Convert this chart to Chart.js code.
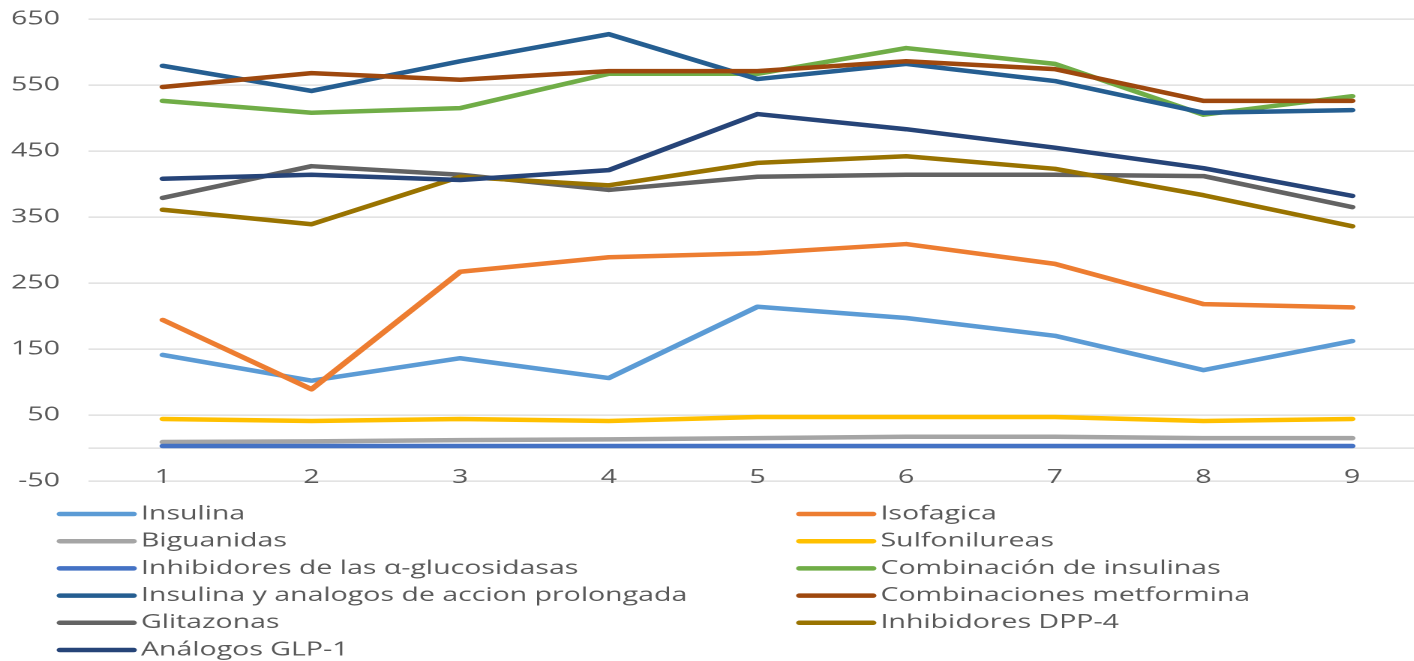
<!DOCTYPE html>
<html>
<head>
<meta charset="utf-8">
<script src="https://cdn.jsdelivr.net/npm/chart.js@4.4.1/dist/chart.umd.min.js"></script>
<style>
  html, body { margin: 0; padding: 0; background: #fff; overflow: hidden; }
  /* the reference is an Excel chart stretched sideways, so the canvas is stretched the same way */
  #wrap { width: 960px; height: 661px; transform: scaleX(1.5); transform-origin: 0 0; }
</style>
</head>
<body>
<div id="wrap"><canvas id="chart"></canvas></div>
<script>
const categories = ["1", "2", "3", "4", "5", "6", "7", "8", "9"];
const yTickValues = [-50, 50, 150, 250, 350, 450, 550, 650];

const insulina = [141, 102, 136, 106, 214, 197, 170, 118, 162];
const isofagica = [194, 89, 267, 289, 295, 309, 279, 218, 213];
const biguanidas = [9, 10, 12, 13, 15, 17, 17, 15, 15];
const sulfonilureas = [44, 41, 44, 41, 47, 47, 47, 41, 44];
const alfaGlucosidasas = [3, 3, 3, 3, 3, 3, 3, 3, 3];
const combInsulinas = [526, 508, 515, 567, 567, 606, 582, 505, 533];
const insulinaProlongada = [579, 541, 586, 627, 559, 582, 556, 508, 512];
const combMetformina = [547, 568, 558, 571, 571, 586, 574, 526, 526];
const glitazonas = [379, 427, 414, 391, 411, 414, 414, 412, 365];
const dpp4 = [361, 339, 411, 398, 432, 442, 423, 383, 336];
const glp1 = [408, 414, 406, 421, 506, 483, 455, 424, 382];

const seriesNames = [
  "Insulina", "Isofagica", "Biguanidas", "Sulfonilureas",
  "Inhibidores de las α-glucosidasas", "Combinación de insulinas",
  "Insulina y analogos de accion prolongada", "Combinaciones metformina",
  "Glitazonas", "Inhibidores DPP-4", "Análogos GLP-1"
];
const seriesValues = [
  insulina, isofagica, biguanidas, sulfonilureas, alfaGlucosidasas, combInsulinas,
  insulinaProlongada, combMetformina, glitazonas, dpp4, glp1
];
const seriesColors = [
  "#5B9BD5", "#ED7D31", "#A5A5A5", "#FFC000", "#4472C4", "#70AD47",
  "#255E91", "#9E480E", "#636363", "#997300", "#264478"
];

const textColor = "#595959";
const gridColor = "#D9D9D9";

// two column legend under the plot, like the Excel one
const sideLegend = {
  id: "sideLegend",
  afterDraw(chart) {
    const ctx = chart.ctx;
    ctx.save();
    ctx.font = "19px 'Open Sans'";
    ctx.textBaseline = "middle";
    ctx.textAlign = "left";
    chart.data.datasets.forEach((ds, i) => {
      const col = i % 2;
      const row = Math.floor(i / 2);
      const x = col === 0 ? 40 : 533;
      const y = 514 + row * 27.2;
      ctx.strokeStyle = ds.borderColor;
      ctx.lineWidth = 4.5;
      ctx.lineCap = "round";
      ctx.beginPath();
      ctx.moveTo(x, y);
      ctx.lineTo(x + 49, y);
      ctx.stroke();
      ctx.fillStyle = textColor;
      ctx.fillText(ds.label, x + 54, y);
    });
    ctx.restore();
  }
};

const datasets = seriesNames.map((name, i) => ({
  label: name,
  data: seriesValues[i],
  borderColor: seriesColors[i],
  backgroundColor: seriesColors[i],
  borderWidth: 4.5,
  borderCapStyle: "round",
  borderJoinStyle: "round",
  pointRadius: 0,
  tension: 0,
  fill: false,
  order: seriesNames.length - i, // later series drawn on top, as in Excel
}));

new Chart(document.getElementById("chart"), {
  type: "line",
  data: { labels: categories, datasets: datasets },
  options: {
    responsive: true,
    maintainAspectRatio: false,
    animation: false,
    devicePixelRatio: 2,
    layout: { padding: { top: 19, right: 9, bottom: 180, left: 0 } },
    plugins: {
      legend: { display: false },
      tooltip: { enabled: false },
    },
    scales: {
      x: {
        offset: true,
        grid: { display: false, drawTicks: false },
        border: { display: false },
        ticks: {
          color: textColor,
          font: { family: "'Open Sans'", size: 19 },
          mirror: true, // labels sit on the -50 line, inside the plot
          padding: -8,
          maxRotation: 0,
          autoSkip: false,
        },
        afterFit(scale) { scale.height = 0; },
      },
      y: {
        min: -50,
        max: 650,
        border: { display: false },
        grid: { color: gridColor, lineWidth: 1.3, drawTicks: false },
        afterBuildTicks(scale) {
          // the category axis crosses at 0, so that line is shown too (without a label)
          scale.ticks = yTickValues.concat([0]).sort((a, b) => a - b).map((v) => ({ value: v }));
        },
        ticks: {
          color: textColor,
          font: { family: "'Open Sans'", size: 19 },
          padding: 19,
          callback: (v) => (v === 0 ? "" : v),
        },
        afterFit(scale) {
          scale.width = 59;
          scale.paddingTop = 0;
          scale.paddingBottom = 0;
        },
      },
    },
  },
  plugins: [sideLegend],
});
</script>
</body>
</html>
